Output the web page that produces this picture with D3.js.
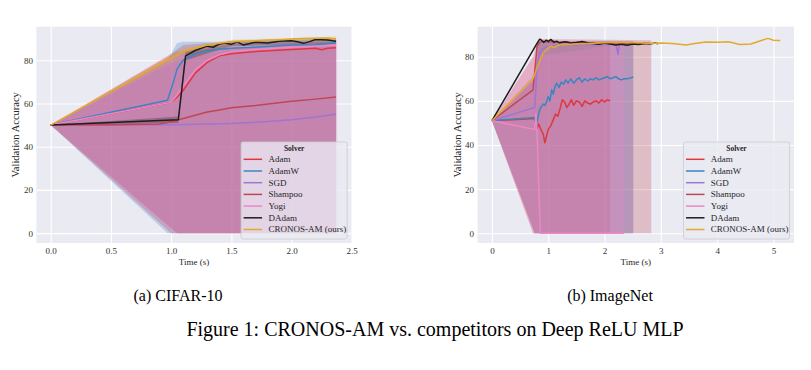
<!DOCTYPE html>
<html>
<head>
<meta charset="utf-8">
<script src="https://cdn.jsdelivr.net/npm/d3@7"></script>
<style>
  body { margin: 0; background: #ffffff; }
  svg text { font-family: "Liberation Serif", "Times New Roman", serif; fill: #262626; }
</style>
</head>
<body>
<svg id="fig" width="811" height="370"></svg>
<script>
//--------------------solvers / colours---------------
var solvers = ["Adam", "AdamW", "SGD", "Shampoo", "Yogi", "DAdam", "CRONOS-AM (ours)"];
var colors  = ["#e0363d", "#3a86c3", "#9f74d2", "#c24650", "#ef86c6", "#1e1e1e", "#e2a92e"];

//--------------------(a) CIFAR-10 lines---------------
var cAdamT = [0, 1.0, 1.05, 1.1, 1.2, 1.3, 1.4, 1.5, 1.7, 2.0, 2.2, 2.25, 2.3, 2.37];
var cAdamY = [50, 60.5, 63, 66, 74, 79, 82, 83, 84, 85, 85.5, 84.8, 85.5, 85.8];
var cAdamWT = [0, 0.97, 1.02, 1.05, 1.1, 1.2, 1.3, 1.5, 1.7, 2.0, 2.2, 2.37];
var cAdamWY = [50, 61.5, 70, 76, 80, 83, 84.5, 85.5, 86, 87, 87.2, 88];
var cSgdT = [0, 0.5, 1.0, 1.5, 1.8, 2.0, 2.2, 2.37];
var cSgdY = [50, 50, 50.1, 50.7, 51.6, 52.5, 53.7, 55];
var cShampooT = [0, 0.5, 0.9, 1.0, 1.1, 1.2, 1.3, 1.4, 1.5, 1.7, 2.0, 2.2, 2.37];
var cShampooY = [50, 50.1, 50.5, 51.5, 53, 54.5, 56, 57, 58, 59, 61, 62, 63];
var cYogiT = [0, 1.0, 1.05, 1.1, 1.2, 1.3, 1.4, 1.5, 1.7, 2.0, 2.2, 2.37];
var cYogiY = [50, 60.5, 64, 68, 75.5, 80, 82.5, 84, 85, 86, 86.5, 87];
var cDadamT = [0, 1.06, 1.12, 1.2, 1.3, 1.35, 1.4, 1.45, 1.5, 1.55, 1.6, 1.7, 1.8, 1.9, 2.0, 2.05, 2.1, 2.15, 2.2, 2.3, 2.37];
var cDadamY = [50, 52.5, 82, 84.5, 86.5, 86, 87.5, 88, 87.3, 88.5, 87, 88.3, 88, 88.8, 89, 88.5, 87.8, 88.6, 89.6, 89.3, 88.8];
var cCronosT = [0, 1.0, 1.1, 1.2, 1.3, 1.4, 1.5, 1.6, 1.7, 1.8, 1.9, 2.0, 2.1, 2.2, 2.3, 2.37];
var cCronosY = [50, 81, 84, 85.5, 87, 87.8, 88.5, 88.8, 89, 89.3, 89.5, 89.8, 90, 90.2, 90.3, 89.8];

//--------------------(a) CIFAR-10 error bands---------------
var cAdamBandT = [0, 1.0, 1.1, 1.3, 1.5, 2.37];
var cAdamLo    = [50, 0, 0, 0, 0, 0];
var cAdamHi    = [50, 83, 87, 88, 88, 88.5];
var cAdamWBandT = [0, 0.97, 1.05, 1.1, 1.5, 2.37];
var cAdamWLo    = [50, 0, 0, 0, 0, 0];
var cAdamWHi    = [50, 80, 88, 88.5, 88.5, 89.5];
var cSgdBandT = [0, 1.05, 1.5, 2.37];
var cSgdLo    = [50, 0, 0, 0];
var cSgdHi    = [50, 80, 85, 87];
var cShampooBandT = [0, 1.05, 1.5, 2.37];
var cShampooLo    = [50, 0, 0, 0];
var cShampooHi    = [50, 84, 86, 88];
var cYogiBandT = [0, 1.0, 1.1, 1.5, 2.38];
var cYogiLo    = [50, 0, 0, 0, 0];
var cYogiHi    = [50, 80, 86, 88.5, 89];
var cDadamBandT = [0, 1.06, 1.12, 1.5, 2.37];
var cDadamLo    = [50, 51, 80, 86.5, 87.5];
var cDadamHi    = [50, 54, 84, 89, 90];
var cCronosBandT = [0, 1.0, 1.1, 1.5, 2.37];
var cCronosLo    = [50, 79.5, 83, 87.5, 89];
var cCronosHi    = [50, 82, 85.5, 89.5, 91];

//--------------------(b) ImageNet lines---------------
var iAdamT = [0, 0.76, 0.8, 0.83, 0.87, 0.91, 0.94, 0.97, 1.0, 1.05, 1.09, 1.13, 1.17, 1.21, 1.25, 1.29, 1.33, 1.37, 1.41, 1.45, 1.5, 1.55, 1.6, 1.65, 1.7, 1.75, 1.8, 1.85, 1.9, 1.95, 2.0, 2.05, 2.1];
var iAdamY = [51, 52, 47.5, 49.5, 47, 45, 41, 44, 47, 49, 51.5, 54, 53, 56.5, 60.5, 59.5, 57, 58.5, 60.5, 58, 60, 59.5, 57.5, 60, 59, 58.5, 59.5, 60, 59, 60.5, 59.5, 60.5, 60];
var iAdamWT = [0, 0.76, 0.79, 0.82, 0.85, 0.88, 0.91, 0.94, 0.97, 1.0, 1.03, 1.06, 1.09, 1.12, 1.15, 1.19, 1.23, 1.27, 1.31, 1.35, 1.4, 1.45, 1.5, 1.55, 1.6, 1.65, 1.7, 1.75, 1.8, 1.85, 1.9, 1.95, 2.0, 2.05, 2.1, 2.15, 2.2, 2.25, 2.3, 2.35, 2.4, 2.45, 2.51];
var iAdamWY = [51, 52.5, 48, 53, 56, 57.5, 58.5, 58, 59.5, 62, 60, 65, 63, 66.5, 68, 66, 68.5, 67.5, 69.5, 68, 70, 68, 69.5, 70.5, 68.5, 70, 69, 70, 69.5, 70.5, 69.5, 70, 70.5, 71, 70, 70.5, 71, 70, 69.5, 70, 70, 70.3, 70.8];
var iSgdT = [0, 0.76, 0.8, 0.85, 0.9, 1.0, 1.1, 1.2, 1.3, 1.4, 1.5, 1.6, 1.7, 1.8, 1.9, 2.0, 2.1, 2.2, 2.24, 2.26, 2.3, 2.4, 2.5];
var iSgdY = [51, 57, 75, 82, 83.5, 84.5, 85, 85, 85.3, 85.5, 85.2, 85.5, 85.7, 85.3, 85.6, 85.8, 85.5, 85.7, 81, 85.6, 85.8, 85.6, 86];
var iShampooT = [0, 0.73, 0.8, 0.85, 0.9, 1.0, 1.1, 1.2, 1.3, 1.4, 1.5, 1.6, 1.7, 1.8, 1.9, 2.0, 2.1, 2.2, 2.3, 2.4, 2.5, 2.6, 2.7, 2.8];
var iShampooY = [51, 65, 84.5, 86.5, 87, 86.5, 87, 86.5, 86.8, 86.3, 86.6, 86.2, 86, 86.4, 85.8, 86.2, 86, 85.7, 86.1, 85.8, 86, 85.7, 86, 86.2];
var iYogiT = [0, 0.76, 0.78, 0.8, 0.86, 1.0, 1.5, 2.0, 2.35];
var iYogiY = [51, 47, 54, 46, 0, 0, 0, 0, 0];
var iDadamT = [0, 0.8, 0.85, 0.88, 0.92, 0.96, 1.0, 1.05, 1.1, 1.15, 1.2, 1.3, 1.4, 1.5, 1.6, 1.7, 1.8, 1.9, 2.0, 2.1, 2.2, 2.3, 2.4, 2.5, 2.6, 2.7, 2.8, 2.9, 2.95];
var iDadamY = [51, 86, 88, 87.5, 86.5, 87.5, 87, 87.8, 86.5, 87, 86.3, 86.8, 86.2, 86.5, 86.9, 86.3, 86, 85.6, 86.2, 85.8, 85.3, 85.6, 85.2, 85.8, 85.5, 86, 85.8, 86.2, 85.9];
var iCronosT = [0, 0.73, 0.8, 0.88, 0.94, 1.0, 1.05, 1.1, 1.2, 1.4, 1.6, 1.8, 2.0, 2.2, 2.4, 2.6, 2.8, 3.0, 3.2, 3.45, 3.6, 3.8, 4.0, 4.2, 4.4, 4.6, 4.8, 4.9, 5.0, 5.12];
var iCronosY = [51, 70, 75, 80, 82.5, 84, 84.8, 84.2, 85.3, 85.7, 85.9, 86.1, 86.3, 86.6, 86.4, 86.3, 86, 86.2, 86, 85.3, 86, 86.7, 86.6, 86.8, 85.5, 85.8, 87.5, 88.3, 87.5, 87.3];

//--------------------(b) ImageNet error bands---------------
var iAdamBandT = [0, 0.76, 0.8, 2.1];
var iAdamLo    = [51, 0, 0, 0];
var iAdamHi    = [51, 70, 86, 87];
var iAdamWBandT = [0, 0.76, 0.8, 2.51];
var iAdamWLo    = [51, 0, 0, 0];
var iAdamWHi    = [51, 70, 86.5, 87];
var iSgdBandT = [0, 0.76, 0.85, 2.51];
var iSgdLo    = [51, 0, 0, 0];
var iSgdHi    = [51, 72, 87, 87];
var iShampooBandT = [0, 0.73, 0.82, 2.83];
var iShampooLo    = [51, 0, 0, 0];
var iShampooHi    = [51, 80, 88, 87.5];
var iYogiBandT = [0, 0.73, 2.35];
var iYogiLo    = [51, 0, 0];
var iYogiHi    = [51, 80, 86];

//--------------------ticks---------------
var cifarXTicks = [0, 0.5, 1.0, 1.5, 2.0, 2.5];
var imagenetXTicks = [0, 1, 2, 3, 4, 5];
var yTicks = [0, 20, 40, 60, 80];

function zip(t, y) { return t.map(function(d, i) { return {t: d, v: y[i]}; }); }
function zipBand(t, lo, hi) { return t.map(function(d, i) { return {t: d, lo: lo[i], hi: hi[i]}; }); }

var cifarLines = [
  zip(cAdamT, cAdamY), zip(cAdamWT, cAdamWY), zip(cSgdT, cSgdY), zip(cShampooT, cShampooY),
  zip(cYogiT, cYogiY), zip(cDadamT, cDadamY), zip(cCronosT, cCronosY)];
var cifarBands = [
  zipBand(cAdamBandT, cAdamLo, cAdamHi), zipBand(cAdamWBandT, cAdamWLo, cAdamWHi),
  zipBand(cSgdBandT, cSgdLo, cSgdHi), zipBand(cShampooBandT, cShampooLo, cShampooHi),
  zipBand(cYogiBandT, cYogiLo, cYogiHi), zipBand(cDadamBandT, cDadamLo, cDadamHi),
  zipBand(cCronosBandT, cCronosLo, cCronosHi)];
var imagenetLines = [
  zip(iAdamT, iAdamY), zip(iAdamWT, iAdamWY), zip(iSgdT, iSgdY), zip(iShampooT, iShampooY),
  zip(iYogiT, iYogiY), zip(iDadamT, iDadamY), zip(iCronosT, iCronosY)];
var imagenetBands = [
  zipBand(iAdamBandT, iAdamLo, iAdamHi), zipBand(iAdamWBandT, iAdamWLo, iAdamWHi),
  zipBand(iSgdBandT, iSgdLo, iSgdHi), zipBand(iShampooBandT, iShampooLo, iShampooHi),
  zipBand(iYogiBandT, iYogiLo, iYogiHi), null, null];

var svg = d3.select("#fig");

//--------------------one panel---------------
function drawPanel(opt) {
  var x = d3.scaleLinear().domain(opt.xDomain).range([opt.left, opt.right]);
  var y = d3.scaleLinear().domain(opt.yDomain).range([opt.bottom, opt.top]);
  var w = opt.right - opt.left, h = opt.bottom - opt.top;
  var g = svg.append("g");

  g.append("rect")
    .attr("x", opt.left).attr("y", opt.top)
    .attr("width", w).attr("height", h)
    .attr("fill", "#eaeaf2");

  // grid lines
  var gx = g.append("g")
    .attr("transform", "translate(0," + opt.bottom + ")")
    .call(d3.axisBottom(x).tickValues(opt.xTicks).tickSize(-h).tickFormat(""));
  var gy = g.append("g")
    .attr("transform", "translate(" + opt.left + ",0)")
    .call(d3.axisLeft(y).tickValues(yTicks).tickSize(-w).tickFormat(""));
  [gx, gy].forEach(function(a) {
    a.select(".domain").remove();
    a.selectAll("line").attr("stroke", "#ffffff").attr("stroke-width", 1.1);
  });

  // tick labels
  var lx = g.append("g")
    .attr("transform", "translate(0," + opt.bottom + ")")
    .call(d3.axisBottom(x).tickValues(opt.xTicks).tickSize(0).tickPadding(5).tickFormat(opt.xFormat));
  var ly = g.append("g")
    .attr("transform", "translate(" + opt.left + ",0)")
    .call(d3.axisLeft(y).tickValues(yTicks).tickSize(0).tickPadding(3.5));
  [lx, ly].forEach(function(a) {
    a.select(".domain").remove();
    a.selectAll("text").attr("font-size", "9px").attr("font-family", null).style("fill", "#333");
  });

  var clipId = "clip" + opt.left;
  g.append("clipPath").attr("id", clipId)
    .append("rect").attr("x", opt.left).attr("y", opt.top).attr("width", w).attr("height", h);
  var plot = g.append("g").attr("clip-path", "url(#" + clipId + ")");

  var area = d3.area()
    .x(function(d) { return x(d.t); })
    .y0(function(d) { return y(d.lo); })
    .y1(function(d) { return y(d.hi); });
  opt.bands.forEach(function(b, i) {
    if (!b) return;
    plot.append("path").datum(b)
      .attr("d", area)
      .attr("fill", colors[i])
      .attr("fill-opacity", 0.27);
  });

  var line = d3.line()
    .x(function(d) { return x(d.t); })
    .y(function(d) { return y(d.v); });
  opt.lines.forEach(function(l, i) {
    plot.append("path").datum(l)
      .attr("d", line)
      .attr("fill", "none")
      .attr("stroke", colors[i])
      .attr("stroke-width", 1.5)
      .attr("stroke-linejoin", "round");
  });

  // axis titles
  g.append("text")
    .attr("x", (opt.left + opt.right) / 2).attr("y", 265)
    .attr("text-anchor", "middle").attr("font-size", "9px")
    .text("Time (s)");
  g.append("text")
    .attr("transform", "translate(" + opt.yLabelX + "," + ((opt.top + opt.bottom) / 2) + ") rotate(-90)")
    .attr("text-anchor", "middle").attr("font-size", "10.5px")
    .text("Validation Accuracy");

  // legend
  var lw = 106, lh = 97;
  var lg = g.append("g").attr("transform", "translate(" + (opt.right - 4.5 - lw) + "," + (opt.bottom - 4 - lh) + ")");
  lg.append("rect")
    .attr("width", lw).attr("height", lh).attr("rx", 2)
    .attr("fill", "#eaeaf2").attr("fill-opacity", 0.8)
    .attr("stroke", "#cccccc").attr("stroke-width", 0.8);
  lg.append("text")
    .attr("x", lw / 2).attr("y", 8.6)
    .attr("text-anchor", "middle").attr("font-size", "7.5px").attr("font-weight", "bold")
    .text("Solver");
  var item = lg.selectAll(".item").data(solvers).enter().append("g")
    .attr("transform", function(d, i) { return "translate(0," + (17.3 + i * 11.7) + ")"; });
  item.append("line")
    .attr("x1", 2.5).attr("x2", 21)
    .attr("stroke", function(d, i) { return colors[i]; })
    .attr("stroke-width", 1.5);
  item.append("text")
    .attr("x", 27.3).attr("dy", "0.33em").attr("font-size", "9px")
    .text(function(d) { return d; });
}

drawPanel({
  left: 36.4, right: 351.6, top: 26.7, bottom: 243,
  xDomain: [-0.119, 2.499], yDomain: [-4.55, 95.5],
  xTicks: cifarXTicks, xFormat: d3.format(".1f"), yLabelX: 18.5,
  lines: cifarLines, bands: cifarBands
});
drawPanel({
  left: 477.6, right: 794, top: 26.7, bottom: 243,
  xDomain: [-0.255, 5.365], yDomain: [-4.4, 93.6],
  xTicks: imagenetXTicks, xFormat: d3.format("d"), yLabelX: 461,
  lines: imagenetLines, bands: imagenetBands
});

//--------------------captions---------------
svg.append("text").attr("x", 178).attr("y", 301)
  .attr("text-anchor", "middle").attr("font-size", "16px").style("fill", "#000")
  .text("(a) CIFAR-10");
svg.append("text").attr("x", 610).attr("y", 301)
  .attr("text-anchor", "middle").attr("font-size", "16px").style("fill", "#000")
  .text("(b) ImageNet");
svg.append("text").attr("x", 435).attr("y", 336)
  .attr("text-anchor", "middle").attr("font-size", "20px").style("fill", "#000")
  .text("Figure 1: CRONOS-AM vs. competitors on Deep ReLU MLP");
</script>
</body>
</html>
